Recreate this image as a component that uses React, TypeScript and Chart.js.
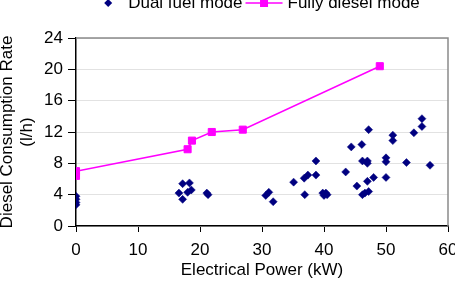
import React, { useEffect, useRef } from "react";
import { Chart, registerables } from "chart.js";

Chart.register(...registerables);

const FONT = '"Liberation Sans", Arial, sans-serif';
const FONT_SIZE = 17;
const NAVY = "#000080";
const MAGENTA = "#ff00ff";

const seriesNames = ["Dual fuel mode", "Fully diesel mode"];

// Dual fuel mode measurements: electrical power (kW) and diesel rate (l/h)
const dualPower = [
  0, 0, 0, 0,
  16.6, 17.2, 17.2, 18.0, 18.3, 18.6, 21.1, 21.3,
  30.6, 31.1, 31.8,
  35.1, 36.9, 36.8, 37.4, 38.7, 38.7, 39.8, 40.3, 40.5, 40.0,
  43.5, 44.4, 45.3, 46.1, 46.2, 47.0, 47.0, 47.2, 47.0, 46.2, 46.6, 47.2, 48.0,
  50.0, 50.0, 50.0, 51.1, 51.1, 53.3, 54.5, 55.8, 55.8, 57.1,
];
const dualRate = [
  2.7, 3.0, 3.4, 3.8,
  4.2, 5.4, 3.4, 4.3, 5.5, 4.6, 4.2, 4.0,
  3.9, 4.3, 3.1,
  5.6, 4.0, 6.1, 6.5, 6.5, 8.3, 4.2, 4.2, 4.0, 3.9,
  6.9, 10.1, 5.1, 10.4, 8.3, 8.3, 8.0, 12.3, 5.7, 4.0, 4.2, 4.4, 6.2,
  8.7, 8.2, 6.2, 11.6, 10.9, 8.1, 11.9, 13.7, 12.7, 7.75,
];

// Fully diesel mode curve
const dieselPower = [0, 0, 18.0, 18.7, 21.9, 26.9, 49.0];
const dieselRate = [6.4, 7.0, 9.8, 10.9, 12.0, 12.3, 20.4];

const xTicks = { min: 0, max: 60, step: 10 };
const yTicks = { min: 0, max: 24, step: 4 };

const xTitle = "Electrical Power (kW)";
const yTitle = ["Diesel Consumption Rate", "(l/h)"];

const frameAndLegend = {
  id: "frameAndLegend",
  afterDraw(chart: any) {
    const { ctx, chartArea } = chart;
    const { left, right, top, bottom } = chartArea;
    ctx.save();
    // grey frame on the top and right edges of the plot
    ctx.strokeStyle = "#8a8a8a";
    ctx.lineWidth = 1.5;
    ctx.beginPath();
    ctx.moveTo(left, top);
    ctx.lineTo(right, top);
    ctx.lineTo(right, bottom);
    ctx.stroke();

    // legend row
    ctx.font = `${FONT_SIZE}px ${FONT}`;
    ctx.textBaseline = "alphabetic";
    ctx.textAlign = "left";
    const w1 = ctx.measureText(seriesNames[0]).width;
    const w2 = ctx.measureText(seriesNames[1]).width;
    const total = 24 + w1 + 3 + 37 + 5 + w2;
    let x = (left + right) / 2 - total / 2;
    const cy = 3;
    const base = 8;

    const dx = x + 4;
    ctx.fillStyle = NAVY;
    ctx.beginPath();
    ctx.moveTo(dx, cy - 4);
    ctx.lineTo(dx + 4, cy);
    ctx.lineTo(dx, cy + 4);
    ctx.lineTo(dx - 4, cy);
    ctx.closePath();
    ctx.fill();

    ctx.fillStyle = "#000";
    ctx.fillText(seriesNames[0], x + 24, base);
    x += 24 + w1 + 3;

    ctx.strokeStyle = MAGENTA;
    ctx.lineWidth = 1.5;
    ctx.beginPath();
    ctx.moveTo(x, cy);
    ctx.lineTo(x + 37, cy);
    ctx.stroke();
    ctx.fillStyle = MAGENTA;
    ctx.fillRect(x + 18.5 - 4, cy - 4, 8, 8);

    ctx.fillStyle = "#000";
    ctx.fillText(seriesNames[1], x + 37 + 5, base);
    ctx.restore();
  },
};

export default function App() {
  const canvasRef = useRef<HTMLCanvasElement | null>(null);

  useEffect(() => {
    const canvas = canvasRef.current;
    if (!canvas) return;
    const chart = new Chart(canvas, {
      type: "scatter",
      data: {
        datasets: [
          {
            label: seriesNames[0],
            data: dualPower.map((p, i) => ({ x: p, y: dualRate[i] })),
            showLine: false,
            pointStyle: "rectRot",
            pointRadius: 4,
            pointBorderWidth: 0.5,
            backgroundColor: NAVY,
            borderColor: NAVY,
          },
          {
            label: seriesNames[1],
            data: dieselPower.map((p, i) => ({ x: p, y: dieselRate[i] })),
            showLine: true,
            tension: 0,
            borderWidth: 1.5,
            borderColor: MAGENTA,
            backgroundColor: MAGENTA,
            pointStyle: "rect",
            pointRadius: 5,
            pointBorderWidth: 1,
          },
        ],
      },
      options: {
        responsive: false,
        animation: false,
        layout: { padding: { top: 38, right: 7, left: 0, bottom: 0 } },
        plugins: {
          legend: { display: false },
          tooltip: { enabled: false },
        },
        scales: {
          x: {
            type: "linear",
            min: xTicks.min,
            max: xTicks.max,
            ticks: {
              stepSize: xTicks.step,
              color: "#000",
              padding: 8,
              font: { family: FONT, size: FONT_SIZE },
            },
            grid: {
              drawOnChartArea: false,
              tickLength: 6,
              tickColor: "#000",
              tickWidth: 1,
            },
            border: { color: "#000", width: 1.5 },
            title: {
              display: true,
              text: xTitle,
              color: "#000",
              font: { family: FONT, size: FONT_SIZE },
              padding: { top: 0, bottom: 1 },
            },
            afterFit(scale: any) {
              scale.height = 56;
              scale.paddingLeft = 0;
              scale.paddingRight = 0;
            },
          },
          y: {
            type: "linear",
            min: yTicks.min,
            max: yTicks.max,
            ticks: {
              stepSize: yTicks.step,
              color: "#000",
              padding: 5,
              font: { family: FONT, size: FONT_SIZE },
            },
            grid: {
              color: "#e2e2e2",
              tickLength: 8,
              tickColor: "#000",
              tickWidth: 1,
            },
            border: { color: "#000", width: 1.5 },
            title: {
              display: true,
              text: yTitle,
              color: "#000",
              font: { family: FONT, size: FONT_SIZE, lineHeight: 1.2 },
              padding: { top: -3, bottom: 0 },
            },
            afterFit(scale: any) {
              scale.width = 76;
              scale.paddingTop = 0;
              scale.paddingBottom = 0;
            },
          },
        },
      },
      plugins: [frameAndLegend],
    });
    return () => chart.destroy();
  }, []);

  return (
    <div style={{ position: "fixed", left: 0, top: 0, width: 455, height: 282, background: "#fff" }}>
      <canvas ref={canvasRef} width={455} height={282} />
    </div>
  );
}
